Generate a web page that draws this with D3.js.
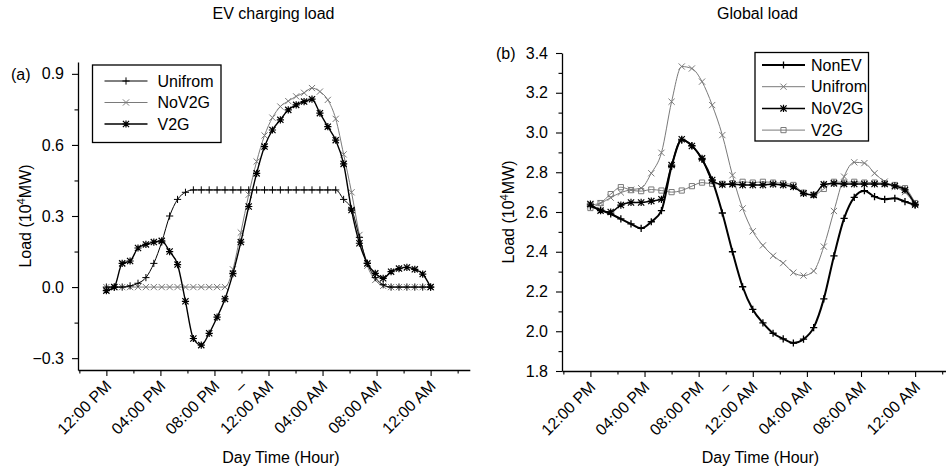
<!DOCTYPE html>
<html><head><meta charset="utf-8">
<script src="https://cdn.jsdelivr.net/npm/d3@7/dist/d3.min.js"></script>
<style>
body{margin:0;background:#fff}
text{font-family:"Liberation Sans",Arial,sans-serif;fill:#000}
</style>
</head><body>
<svg id="chart" width="946" height="470"></svg>
<script>
// ---------- data ----------
const timeTickHours  = [0, 4, 8, 10, 12, 16, 20, 24];
const timeTickLabels = ["12:00 PM","04:00 PM","08:00 PM","\u2013","12:00 AM","04:00 AM","08:00 AM","12:00 AM"];
const dayHours = 24;

// (a) EV charging load, 42 samples from 12:00 PM to 12:00 PM next day
const seriesNamesA = ["Unifrom","NoV2G","V2G"];
const evUnifrom = [0,0,0,0.005,0.016,0.04,0.10,0.19,0.30,0.37,0.40,
  0.41,0.41,0.41,0.41,0.41,0.41,0.41,0.41,0.41,0.41,0.41,0.41,0.41,0.41,0.41,0.41,0.41,0.41,0.41,
  0.37,0.33,0.21,0.10,0.04,0.01,0,0,0,0,0,0];
const evNoV2G = [0,0,0,0,0,0,0,0,0,0,0,0,0,0,0,0,
  0.075,0.23,0.39,0.53,0.64,0.715,0.762,0.785,0.805,0.82,0.84,0.825,0.79,0.71,0.56,0.40,0.22,0.09,0.03,0.005,
  0,0,0,0,0,0];
const evV2G = [-0.015,0.0,0.10,0.11,0.165,0.18,0.19,0.195,0.15,0.095,-0.06,-0.217,-0.245,-0.195,-0.127,-0.05,
  0.057,0.19,0.34,0.48,0.593,0.663,0.706,0.748,0.769,0.783,0.793,0.734,0.677,0.62,0.52,0.325,0.185,0.10,
  0.058,0.037,0.065,0.078,0.083,0.075,0.055,0.0];
const yTicksA = [-0.3, 0.0, 0.3, 0.6, 0.9];
const yMinorA = [-0.15, 0.15, 0.45, 0.75];

// (b) Global load, 33 samples
const seriesNamesB = ["NonEV","Unifrom","NoV2G","V2G"];
const glNonEV = [2.63,2.61,2.59,2.565,2.54,2.518,2.551,2.607,2.83,2.962,2.934,2.865,2.76,2.595,2.40,2.224,
  2.11,2.042,1.99,1.962,1.941,1.96,2.018,2.163,2.379,2.568,2.674,2.707,2.677,2.664,2.669,2.652,2.635];
const glUnifrom = [2.635,2.645,2.672,2.698,2.712,2.72,2.795,2.898,3.155,3.332,3.322,3.256,3.138,2.987,2.785,2.618,
  2.503,2.432,2.38,2.343,2.295,2.28,2.303,2.426,2.605,2.778,2.85,2.846,2.795,2.753,2.727,2.70,2.635];
const glNoV2G = [2.64,2.607,2.60,2.635,2.648,2.648,2.655,2.664,2.836,2.966,2.932,2.87,2.761,2.738,2.74,2.736,
  2.736,2.736,2.74,2.736,2.727,2.694,2.686,2.739,2.744,2.741,2.741,2.741,2.741,2.741,2.731,2.711,2.638];
const glV2G = [2.62,2.645,2.69,2.725,2.71,2.705,2.713,2.708,2.70,2.708,2.73,2.748,2.742,2.742,2.745,2.752,
  2.748,2.752,2.748,2.744,2.736,2.697,2.686,2.716,2.752,2.748,2.752,2.748,2.748,2.744,2.736,2.72,2.645];
const yTicksB = [1.8, 2.0, 2.2, 2.4, 2.6, 2.8, 3.0, 3.2, 3.4];
const yMinorB = [1.9, 2.1, 2.3, 2.5, 2.7, 2.9, 3.1, 3.3];

// ---------- drawing ----------
const svg = d3.select("#chart");
const FS = 16;

function markerPath(kind){
  const a = 3.6, b = 3.1;
  const plus = `M${-a},0H${a}M0,${-a}V${a}`;
  const x = `M${-b},${-b}L${b},${b}M${-b},${b}L${b},${-b}`;
  if (kind === "plus") return plus;
  if (kind === "x") return x;
  if (kind === "star") return plus + x;
  return "M-2.6,-2.6h5.2v5.2h-5.2z";
}

function drawPanel(cfg){
  const g = svg.append("g");
  const x = cfg.x, y = cfg.y;

  // minor ticks
  g.append("g").attr("transform", `translate(0,${y.range()[0]})`)
    .call(d3.axisBottom(x).tickValues(d3.range(-2, 27, 2).filter(h => h % 4 !== 0)).tickSize(3.5).tickSizeOuter(0).tickFormat(""))
    .call(s => { s.select(".domain").remove(); s.selectAll("line").attr("stroke-width",1.1); });
  g.append("g").attr("transform", `translate(${x.range()[0]},0)`)
    .call(d3.axisLeft(y).tickValues(cfg.yMinor).tickSize(3.5).tickSizeOuter(0).tickFormat(""))
    .call(s => { s.select(".domain").remove(); s.selectAll("line").attr("stroke-width",1.1); });

  // x axis
  const xa = g.append("g").attr("transform", `translate(0,${y.range()[0]})`)
    .call(d3.axisBottom(x).tickValues(timeTickHours).tickSize(6).tickSizeOuter(0)
      .tickFormat((d,i) => timeTickLabels[i]));
  xa.select(".domain").attr("stroke-width",1.3);
  xa.selectAll("line").attr("stroke-width",1.1);
  xa.selectAll(".tick").filter(d => d === 10).select("line").remove();
  xa.selectAll("text").attr("x",0).attr("y",0).attr("dy",0)
    .attr("text-anchor","end").attr("font-size",FS)
    .attr("font-family",'"Liberation Sans",Arial,sans-serif')
    .attr("transform","translate(5.5,17) rotate(-45)");

  // y axis
  const ya = g.append("g").attr("transform", `translate(${x.range()[0]},0)`)
    .call(d3.axisLeft(y).tickValues(cfg.yTicks).tickSize(6).tickSizeOuter(0).tickPadding(8)
      .tickFormat(d3.format(".1f")));
  ya.select(".domain").attr("stroke-width",1.3);
  ya.selectAll("line").attr("stroke-width",1.1);
  ya.selectAll("text").attr("font-size",FS).attr("font-family",'"Liberation Sans",Arial,sans-serif')
    .text(d => d3.format(".1f")(d).replace("-", "\u2212"));

  // series
  const line = d3.line().x(d => x(d[0])).y(d => y(d[1])).curve(d3.curveMonotoneX);
  cfg.order.forEach(name => {
    const vals = cfg.data[name], st = cfg.style[name];
    const n = vals.length;
    const pts = vals.map((v,i) => [i * dayHours / (n - 1), v]);
    g.append("path").datum(pts).attr("d", line).attr("fill","none")
      .attr("stroke", st.stroke).attr("stroke-width", st.w);
    g.append("g").selectAll("path").data(pts).join("path")
      .attr("transform", d => `translate(${x(d[0])},${y(d[1])})`)
      .attr("d", markerPath(st.marker)).attr("fill","none")
      .attr("stroke", st.stroke).attr("stroke-width", st.mw || 1);
  });

  // legend
  const L = cfg.legend;
  g.append("rect").attr("x",L.x).attr("y",L.y).attr("width",L.w).attr("height",L.h)
    .attr("fill","#fff").attr("stroke","#000").attr("stroke-width",1.3);
  cfg.names.forEach((name,i) => {
    const st = cfg.style[name], ry = L.y + L.first + i * L.step;
    g.append("line").attr("x1",L.x+L.lx1).attr("x2",L.x+L.lx2).attr("y1",ry).attr("y2",ry)
      .attr("stroke",st.stroke).attr("stroke-width",st.w);
    g.append("path").attr("transform",`translate(${L.x+(L.lx1+L.lx2)/2},${ry})`)
      .attr("d",markerPath(st.marker)).attr("fill","none").attr("stroke",st.stroke).attr("stroke-width", st.mw || 1);
    g.append("text").attr("x",L.x+L.tx).attr("y",ry).attr("dy","0.36em")
      .attr("font-size",FS).text(name);
  });

  // titles and labels
  g.append("text").attr("x",cfg.titleX).attr("y",19).attr("text-anchor","middle")
    .attr("font-size",FS).text(cfg.title);
  g.append("text").attr("x",cfg.tagX).attr("y",y(cfg.yTicks[cfg.yTicks.length-1])).attr("dy","0.36em")
    .attr("font-size",FS).text(cfg.tag);
  const yl = g.append("text").attr("text-anchor","middle").attr("font-size",FS)
    .attr("transform",`translate(${cfg.ylabX},${(y.range()[0]+y.range()[1])/2}) rotate(-90)`);
  yl.append("tspan").text("Load (10");
  yl.append("tspan").attr("dy",-6).attr("font-size",FS*0.7).text("4");
  yl.append("tspan").attr("dy",6).text("MW)");
  g.append("text").attr("x",cfg.xlabX).attr("y",463).attr("text-anchor","middle")
    .attr("font-size",FS).text("Day Time (Hour)");
}

const gray = "#7a7a7a";

drawPanel({
  x: d3.scaleLinear().domain([-2.1, 26.9]).range([78, 469.8]),
  y: d3.scaleLinear().domain([-0.35, 0.95]).range([370, 62]),
  yTicks: yTicksA, yMinor: yMinorA,
  names: seriesNamesA, order: ["NoV2G","Unifrom","V2G"],
  data: {Unifrom: evUnifrom, NoV2G: evNoV2G, V2G: evV2G},
  style: {
    Unifrom: {stroke:"#000", w:1, marker:"plus"},
    NoV2G:   {stroke:gray, w:1, marker:"x"},
    V2G:     {stroke:"#000", w:1.4, marker:"star", mw:1.2}
  },
  legend: {x:92.5, y:65, w:128.5, h:77.5, first:16, step:21.5, lx1:12, lx2:55, tx:65},
  title: "EV charging load", titleX: 273.5, tag: "(a)", tagX: 11,
  ylabX: 31, xlabX: 281
});

drawPanel({
  x: d3.scaleLinear().domain([-2.1, 26.4]).range([562, 947.6]),
  y: d3.scaleLinear().domain([1.8, 3.4]).range([371, 53]),
  yTicks: yTicksB, yMinor: yMinorB,
  names: seriesNamesB, order: ["V2G","Unifrom","NoV2G","NonEV"],
  data: {NonEV: glNonEV, Unifrom: glUnifrom, NoV2G: glNoV2G, V2G: glV2G},
  style: {
    NonEV:   {stroke:"#000", w:2, marker:"plus", mw:1.3},
    Unifrom: {stroke:gray, w:1, marker:"x"},
    NoV2G:   {stroke:"#000", w:1.5, marker:"star", mw:1.2},
    V2G:     {stroke:gray, w:1, marker:"square"}
  },
  legend: {x:755, y:52.5, w:113.5, h:88.5, first:12.5, step:21.7, lx1:7, lx2:50, tx:56},
  title: "Global load", titleX: 757.5, tag: "(b)", tagX: 496,
  ylabX: 514, xlabX: 760.5
});
</script>
</body></html>
